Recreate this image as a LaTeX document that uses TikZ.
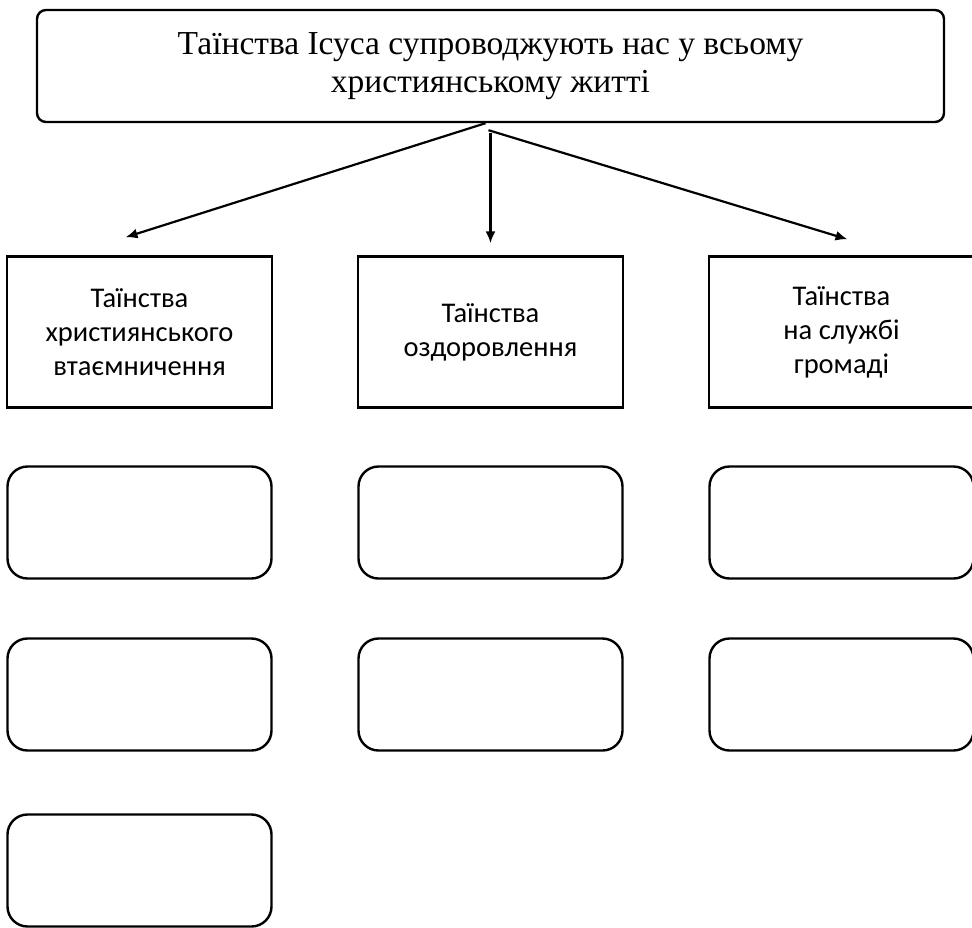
\documentclass[tikz,border=0pt]{standalone}
\usepackage{fontspec}
\setmainfont{Liberation Serif}
\setsansfont{Carlito}
\usepackage{tikz}
\usetikzlibrary{shapes.geometric, arrows, arrows.meta}

\tikzstyle{title} = [rectangle, rounded corners=9pt, minimum width=907pt, minimum height=112pt, align=center, draw=black, line width=2.4pt, font=\fontsize{33.5}{38}\selectfont]
\tikzstyle{kind} = [rectangle, minimum width=265pt, minimum height=151pt, align=center, draw=black, line width=2.4pt, font=\sffamily\fontsize{28.5}{34}\selectfont]
\tikzstyle{slot} = [rectangle, rounded corners=20pt, minimum width=264pt, minimum height=112pt, draw=black, line width=2.4pt]
\tikzstyle{arrow} = [line width=2.2pt,->,>={Latex[length=12pt,width=10pt]}]

\begin{document}
\begin{tikzpicture}[x=1pt, y=1pt, node distance=172pt]
\useasboundingbox (0,0) rectangle (972,-927);

\node (top) [title] at (490.5,-66) {Таїнства Ісуса супроводжують нас у всьому\\християнському житті};
\node (ozd) [kind, below of=top, yshift=-94pt] {Таїнства\\оздоровлення};
\node (chr) [kind, left of=ozd, xshift=-179pt] {Таїнства\\християнського\\втаємничення};
\node (grm) [kind, right of=ozd, xshift=179pt] {Таїнства\\на службі\\громаді};

\node (chr1) [slot, below of=chr, yshift=-18.5pt] {};
\node (chr2) [slot, below of=chr1] {};
\node (chr3) [slot, below of=chr2, yshift=-4pt] {};
\node (ozd1) [slot, below of=ozd, yshift=-18.5pt] {};
\node (ozd2) [slot, below of=ozd1] {};
\node (grm1) [slot, below of=grm, yshift=-18.5pt] {};
\node (grm2) [slot, below of=grm1] {};

\draw [arrow] ([xshift=-5pt]top.south) -- ([xshift=-14pt, yshift=18pt]chr.north);
\draw [arrow] ([yshift=-10pt]top.south) -- ([yshift=12pt]ozd.north);
\draw [arrow] ([xshift=-2pt, yshift=-7pt]top.south) -- ([xshift=6pt, yshift=16pt]grm.north);

\end{tikzpicture}
\end{document}
